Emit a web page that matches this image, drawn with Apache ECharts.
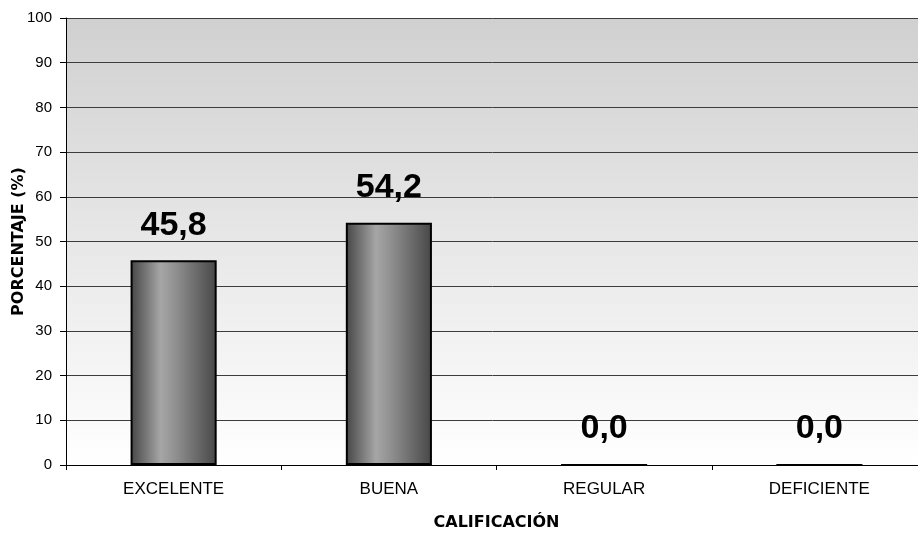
<!DOCTYPE html>
<html>
<head>
<meta charset="utf-8">
<title>Calificación</title>
<script src="https://cdn.jsdelivr.net/npm/echarts@6/dist/echarts.min.js"></script>
<style>
  html, body { margin: 0; padding: 0; background: #ffffff; }
  #chart { width: 918px; height: 535px; }
</style>
</head>
<body>
<div id="chart"></div>
<script>
// Rating categories and their percentages
const categories = ['EXCELENTE', 'BUENA', 'REGULAR', 'DEFICIENTE'];
const percentages = [45.8, 54.2, 0.0, 0.0];

// Y axis range
const yMin = 0;
const yMax = 100;
const yStep = 10;

const chart = echarts.init(document.getElementById('chart'), null, { renderer: 'canvas' });

// Cylinder-like shading across each bar
const barShade = new echarts.graphic.LinearGradient(0, 0, 1, 0, [
  { offset: 0.0, color: '#454545' },
  { offset: 0.35, color: '#a6a6a6' },
  { offset: 0.55, color: '#8c8c8c' },
  { offset: 1.0, color: '#474747' }
]);

// Plot area fades from light gray at the top to white at the bottom
const plotFill = new echarts.graphic.LinearGradient(0, 0, 0, 1, [
  { offset: 0, color: '#d0d0d0' },
  { offset: 1, color: '#ffffff' }
]);

chart.setOption({
  animation: false,
  backgroundColor: '#ffffff',
  grid: {
    left: 66,
    top: 18,
    width: 861,
    bottom: 70,
    show: true,
    backgroundColor: plotFill,
    borderWidth: 0,
    containLabel: false,
    outerBoundsMode: 'none'
  },
  xAxis: {
    type: 'category',
    data: categories,
    name: 'CALIFICACIÓN',
    nameLocation: 'middle',
    nameGap: 50,
    nameMoveOverlap: false,
    nameTextStyle: {
      fontFamily: 'DejaVu Sans',
      fontWeight: 'bold',
      fontSize: 16,
      color: '#000000'
    },
    axisLine: { show: true, lineStyle: { color: '#000000', width: 1 } },
    axisTick: { show: true, length: 5, lineStyle: { color: '#000000' } },
    axisLabel: {
      fontFamily: 'Liberation Sans',
      fontSize: 17,
      color: '#000000',
      margin: 16
    },
    splitLine: { show: false }
  },
  yAxis: {
    type: 'value',
    min: yMin,
    max: yMax,
    interval: yStep,
    name: 'PORCENTAJE (%)',
    nameLocation: 'middle',
    nameGap: 39,
    nameMoveOverlap: false,
    nameTextStyle: {
      fontFamily: 'DejaVu Sans',
      fontWeight: 'bold',
      fontSize: 16,
      color: '#000000'
    },
    axisLine: { show: true, lineStyle: { color: '#000000', width: 1 } },
    axisTick: { show: true, inside: false, length: 6, lineStyle: { color: '#000000' } },
    axisLabel: {
      fontFamily: 'Liberation Sans',
      fontSize: 15,
      color: '#000000',
      margin: 14
    },
    splitLine: { show: true, lineStyle: { color: '#3c3c3c', width: 1 } }
  },
  series: [{
    type: 'bar',
    data: percentages,
    barWidth: '40%',
    itemStyle: {
      color: barShade,
      borderColor: '#000000',
      borderWidth: 2
    },
    label: {
      show: true,
      position: 'top',
      distance: 18,
      fontFamily: 'Liberation Sans',
      fontWeight: 'bold',
      fontSize: 34,
      color: '#000000',
      formatter: p => p.value.toFixed(1).replace('.', ',')
    }
  }]
});
</script>
</body>
</html>
